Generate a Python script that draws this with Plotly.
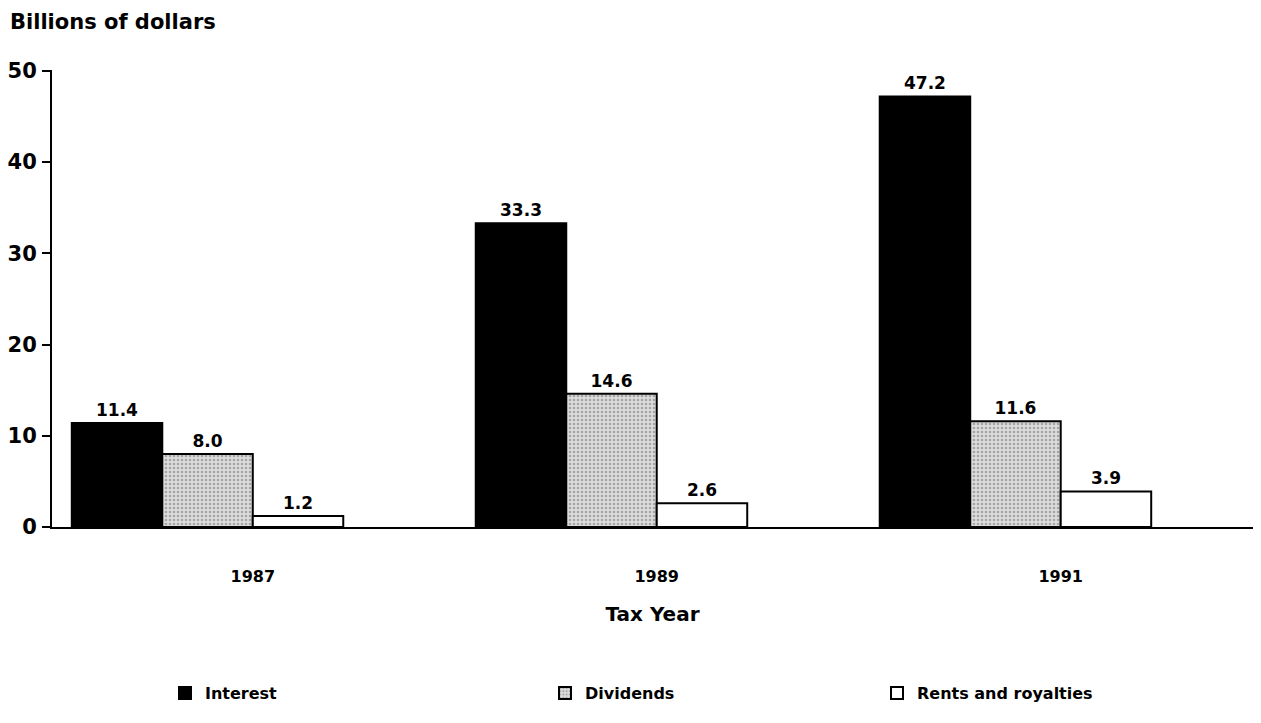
import plotly.graph_objects as go

years = ["1987", "1989", "1991"]
series_names = ["Interest", "Dividends", "Rents and royalties"]
interest = [11.4, 33.3, 47.2]
dividends = [8.0, 14.6, 11.6]
rents = [1.2, 2.6, 3.9]
y_ticks = [0, 10, 20, 30, 40, 50]

FONT = "DejaVu Sans"
W, H = 1245, 707  # page body adds 8px margin around the figure
xpos = list(range(len(years)))

fig = go.Figure()
styles = [
    dict(color="black", line=dict(color="black", width=2)),
    dict(color="#d9d9d9", line=dict(color="black", width=2),
         pattern=dict(shape=".", fgcolor="#6e6e6e", bgcolor="#dcdcdc", size=4, solidity=0.35)),
    dict(color="white", line=dict(color="black", width=2)),
]
legends = ["legend", "legend2", "legend3"]
for name, vals, st, lg in zip(series_names, [interest, dividends, rents], styles, legends):
    fig.add_trace(go.Bar(
        x=xpos, y=vals, name=name, marker=st, legend=lg, showlegend=True,
        texttemplate="%{y:.1f}", textposition="outside",
        textfont=dict(family=FONT, size=17, color="black", weight="bold"),
        cliponaxis=False,
    ))

leg_common = dict(orientation="h", yanchor="middle", xref="container", yref="container",
                  y=1 - 685 / H, font=dict(family=FONT, size=16, color="black", weight="bold"),
                  bgcolor="rgba(0,0,0,0)")
fig.update_layout(
    width=W, height=H,
    paper_bgcolor="white", plot_bgcolor="white",
    margin=dict(l=44, r=0, t=62, b=188),
    barmode="group", bargap=0.328, bargroupgap=0,
    showlegend=True,
    font=dict(family=FONT, color="black"),
    title=dict(text="Billions of dollars", x=2 / W, xanchor="left", xref="container",
               y=1 - 14 / H, yanchor="middle", yref="container",
               font=dict(family=FONT, size=21, color="black", weight="bold")),
    legend=dict(x=157 / W, **leg_common),
    legend2=dict(x=537 / W, **leg_common),
    legend3=dict(x=869 / W, **leg_common),
    xaxis=dict(
        range=[-0.385, 2.588],
        tickvals=[i + 0.112 for i in xpos], ticktext=years,
        showline=True, linecolor="black", linewidth=2,
        showgrid=False, zeroline=False, ticks="",
        ticklabelstandoff=34,
        tickfont=dict(family=FONT, size=16, color="black", weight="bold"),
        title=dict(text="Tax Year", standoff=22,
                   font=dict(family=FONT, size=20, color="black", weight="bold")),
    ),
    yaxis=dict(
        range=[0, 50.1], tickvals=y_ticks,
        showline=True, linecolor="black", linewidth=2,
        showgrid=False, zeroline=False,
        ticks="outside", ticklen=8, tickwidth=2, tickcolor="black",
        ticklabelstandoff=1,
        tickfont=dict(family=FONT, size=21, color="black", weight="bold"),
    ),
)

fig.write_html("out.html")
